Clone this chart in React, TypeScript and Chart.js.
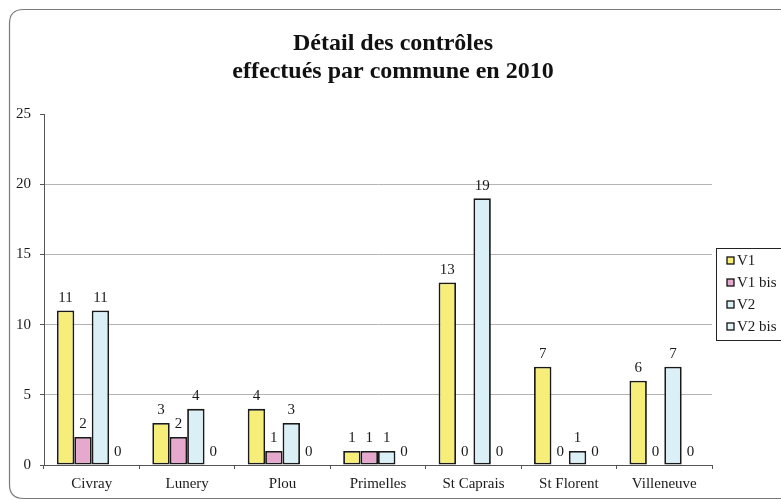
import React, { useEffect, useRef } from "react";
import { Chart, registerables } from "chart.js";

Chart.register(...registerables);

const categories = ["Civray", "Lunery", "Plou", "Primelles", "St Caprais", "St Florent", "Villeneuve"];
const v1 = [11, 3, 4, 1, 13, 7, 6];
const v1bis = [2, 2, 1, 1, 0, 0, 0];
const v2 = [11, 4, 3, 1, 19, 1, 7];
const v2bis = [0, 0, 0, 0, 0, 0, 0];
const seriesNames = ["V1", "V1 bis", "V2", "V2 bis"];
const seriesColors = ["#f6ee78", "#e6a9cd", "#dbeff6", "#e4f3f8"];
const titleLines = ["Détail des contrôles", "effectués par commune en 2010"];
const yTicks = [0, 5, 10, 15, 20, 25];

const SERIF = "'Liberation Serif', 'DejaVu Serif', serif";

const framePlugin = {
  id: "frame",
  beforeDraw(chart: any) {
    const ctx = chart.ctx;
    ctx.save();
    ctx.fillStyle = "#ffffff";
    ctx.fillRect(0, 0, chart.width, chart.height);
    ctx.strokeStyle = "#7a7a7a";
    ctx.lineWidth = 1.2;
    const x = 9.5, y = 9.5, w = 800, h = 489, r = 14;
    ctx.beginPath();
    ctx.moveTo(x + r, y);
    ctx.lineTo(x + w, y);
    ctx.lineTo(x + w, y + h);
    ctx.lineTo(x + r, y + h);
    ctx.quadraticCurveTo(x, y + h, x, y + h - r);
    ctx.lineTo(x, y + r);
    ctx.quadraticCurveTo(x, y, x + r, y);
    ctx.stroke();
    // title
    ctx.fillStyle = "#111";
    ctx.font = `bold 24px ${SERIF}`;
    ctx.textAlign = "center";
    ctx.textBaseline = "alphabetic";
    ctx.fillText(titleLines[0], 393, 50);
    ctx.fillText(titleLines[1], 393, 78);
    ctx.restore();
  },
};

const labelsPlugin = {
  id: "valueLabels",
  afterDatasetsDraw(chart: any) {
    const ctx = chart.ctx;
    ctx.save();
    ctx.font = `15px ${SERIF}`;
    ctx.fillStyle = "#1a1a1a";
    ctx.textAlign = "center";
    ctx.textBaseline = "bottom";
    chart.data.datasets.forEach((ds: any, i: number) => {
      const meta = chart.getDatasetMeta(i);
      meta.data.forEach((bar: any, j: number) => {
        const v = ds.data[j];
        ctx.fillText(String(v), bar.x, bar.y - 5);
      });
    });
    ctx.restore();
  },
};

const legendPlugin = {
  id: "customLegend",
  afterDraw(chart: any) {
    const ctx = chart.ctx;
    ctx.save();
    ctx.strokeStyle = "#222";
    ctx.lineWidth = 1;
    ctx.strokeRect(716.5, 248.5, 80, 92);
    ctx.font = `15px ${SERIF}`;
    ctx.textAlign = "left";
    ctx.textBaseline = "middle";
    chart.data.datasets.forEach((ds: any, i: number) => {
      const cy = 261 + i * 22;
      ctx.fillStyle = ds.backgroundColor;
      ctx.fillRect(727, cy - 4, 7, 7);
      ctx.strokeStyle = "#111";
      ctx.lineWidth = 1.3;
      ctx.strokeRect(727, cy - 4, 7, 7);
      ctx.fillStyle = "#1a1a1a";
      ctx.fillText(ds.label, 737, cy);
    });
    ctx.restore();
  },
};

export default function App() {
  const ref = useRef<HTMLCanvasElement>(null);
  useEffect(() => {
    const data = [v1, v1bis, v2, v2bis];
    const chart = new Chart(ref.current as HTMLCanvasElement, {
      type: "bar",
      data: {
        labels: categories,
        datasets: data.map((d, i) => ({
          label: seriesNames[i],
          data: d,
          backgroundColor: seriesColors[i],
          borderColor: "#1a1a1a",
          borderWidth: 1.8,
          borderSkipped: false,
          categoryPercentage: 0.73,
          barPercentage: 1,
        })),
      },
      options: {
        responsive: false,
        animation: false,
        layout: { padding: { left: 0, right: 69, top: 114, bottom: 0 } },
        plugins: {
          legend: { display: false },
          title: { display: false },
          tooltip: { enabled: false },
        },
        scales: {
          y: {
            min: 0,
            max: 25,
            afterBuildTicks: (scale: any) => {
              scale.ticks = yTicks.map((v) => ({ value: v }));
            },
            afterFit: (scale: any) => {
              scale.width = 44;
            },
            ticks: {
              padding: 9,
              color: "#1a1a1a",
              font: { family: SERIF, size: 15 },
            },
            grid: {
              color: (c: any) => (c.tick && (c.tick.value === 0 || c.tick.value === 25) ? "rgba(0,0,0,0)" : "#b4b4b4"),
              tickColor: "#555",
              tickLength: 4,
              lineWidth: 1,
            },
            border: { display: true, color: "#555", width: 1 },
          },
          x: {
            afterFit: (scale: any) => {
              scale.height = 37;
            },
            ticks: {
              padding: 6,
              color: "#1a1a1a",
              font: { family: SERIF, size: 15 },
            },
            grid: {
              drawOnChartArea: false,
              offset: true,
              tickColor: "#555",
              tickLength: 4,
            },
            border: { display: true, color: "#555", width: 1 },
          },
        },
      },
      plugins: [framePlugin, labelsPlugin, legendPlugin],
    } as any);
    return () => chart.destroy();
  }, []);
  return (
    <div style={{ position: "fixed", left: 0, top: 0, width: 781, height: 502 }}>
      <canvas ref={ref} width={781} height={502} style={{ width: 781, height: 502 }} />
    </div>
  );
}
